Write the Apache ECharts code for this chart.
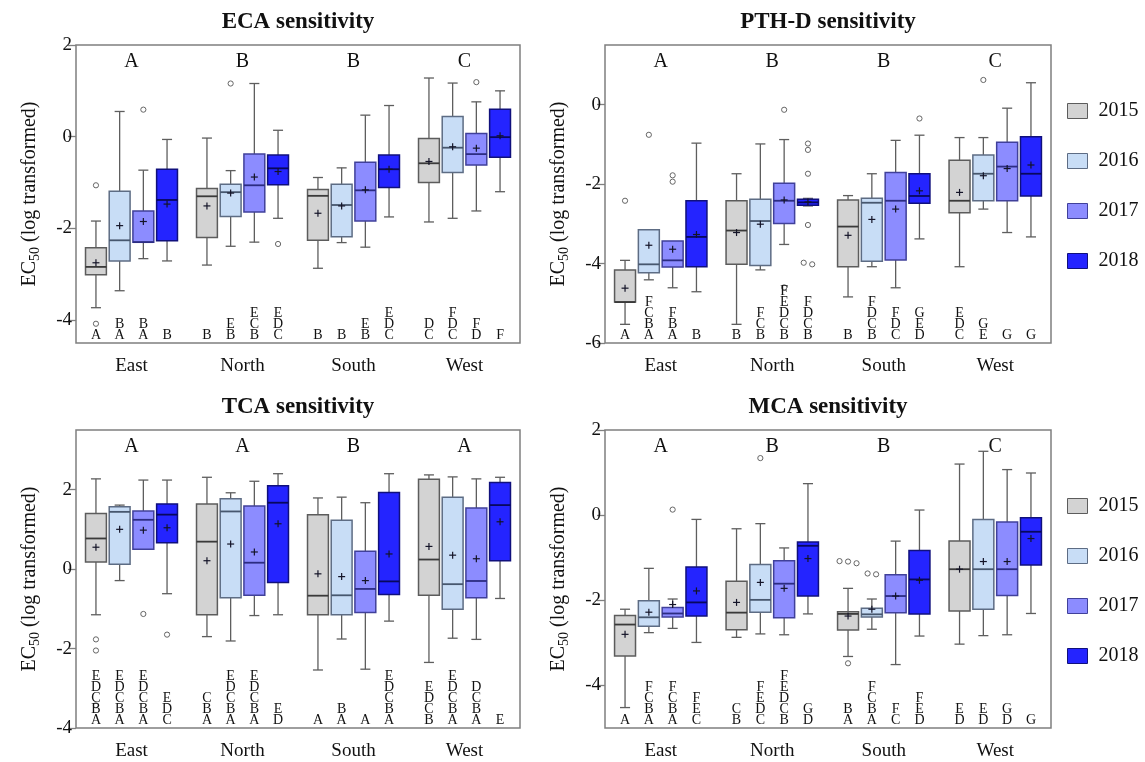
<!DOCTYPE html>
<html>
<head>
<meta charset="utf-8">
<script src="https://cdn.jsdelivr.net/npm/echarts@6/dist/echarts.min.js"></script>
<style>
  html, body { margin: 0; padding: 0; background: #ffffff; }
  #chart { width: 1145px; height: 762px; }
</style>
</head>
<body>
<div id="chart"></div>
<script>
// ---------- data ----------
const regions = ['East', 'North', 'South', 'West'];
const years = ['2015', '2016', '2017', '2018'];
const panelTitles = ['ECA sensitivity', 'PTH-D sensitivity', 'TCA sensitivity', 'MCA sensitivity'];

// five-number summaries [min, Q1, median, Q3, max] for East, North, South, West
const eca2015 = [[-3.73, -3.01, -2.84, -2.42, -1.84], [-2.80, -2.20, -1.30, -1.13, -0.03], [-2.87, -2.26, -1.29, -1.15, -0.89], [-1.86, -1.00, -0.58, -0.04, 1.28]];
const eca2016 = [[-3.36, -2.71, -2.26, -1.19, 0.55], [-2.39, -1.74, -1.21, -1.04, -0.74], [-2.31, -2.18, -1.49, -1.04, -0.68], [-1.78, -0.78, -0.24, 0.44, 1.17]];
const eca2017 = [[-2.66, -2.30, -2.30, -1.62, -0.73], [-2.30, -1.64, -1.06, -0.38, 1.16], [-2.41, -1.84, -1.17, -0.56, 0.47], [-1.62, -0.62, -0.38, 0.07, 0.76]];
const eca2018 = [[-2.71, -2.27, -1.38, -0.71, -0.06], [-1.78, -1.05, -0.69, -0.40, 0.14], [-1.75, -1.11, -0.71, -0.40, 0.68], [-1.20, -0.45, -0.01, 0.60, 1.00]];
const ecaMeans = [[-2.75, -1.51, -1.67, -0.54], [-1.94, -1.23, -1.51, -0.22], [-1.85, -0.88, -1.16, -0.25], [-1.47, -0.76, -0.71, 0.02]];
const ecaOutliers = [[[-1.06, -4.08], [], [], []], [[], [1.16], [], []], [[0.59], [], [], [1.19]], [[], [-2.34], [], []]];
const ecaLetters = [['A', 'B', 'B', 'DC'], ['BA', 'EB', 'B', 'FDC'], ['BA', 'ECB', 'EB', 'FD'], ['B', 'EDC', 'EDC', 'F']];
const ecaGroups = ['A', 'B', 'B', 'C'];

const pth2015 = [[-5.53, -4.97, -4.97, -4.16, -3.92], [-5.53, -4.02, -3.17, -2.42, -1.74], [-4.84, -4.08, -3.07, -2.40, -2.29], [-4.08, -2.72, -2.42, -1.40, -0.83]];
const pth2016 = [[-4.41, -4.23, -4.02, -3.15, -3.15], [-4.16, -4.05, -2.93, -2.38, -0.99], [-4.08, -3.94, -2.47, -2.36, -1.74], [-2.63, -2.42, -1.74, -1.27, -0.83]];
const pth2017 = [[-4.61, -4.09, -3.92, -3.43, -3.43], [-3.52, -2.99, -2.42, -1.98, -0.88], [-4.61, -3.91, -2.42, -1.71, -0.90], [-3.22, -2.42, -1.56, -0.95, -0.09]];
const pth2018 = [[-4.71, -4.08, -3.33, -2.42, -0.97], [-2.55, -2.53, -2.46, -2.38, -2.36], [-3.38, -2.48, -2.30, -1.74, -0.77], [-3.33, -2.30, -1.74, -0.81, 0.55]];
const pthMeans = [[-4.62, -3.22, -3.29, -2.21], [-3.54, -3.01, -2.89, -1.79], [-3.64, -2.40, -2.63, -1.61], [-3.27, -2.45, -2.17, -1.52]];
const pthOutliers = [[[-2.42], [], [], []], [[-0.76], [], [], [0.62]], [[-1.78, -1.94], [-0.13, -4.60], [], []], [[], [-0.98, -1.14, -1.74, -3.03, -3.98, -4.02], [-0.35], []]];
const pthLetters = [['A', 'B', 'B', 'EDC'], ['FCBA', 'FCB', 'FDCB', 'GE'], ['FBA', 'FEDCB', 'FDC', 'G'], ['B', 'FDCB', 'GED', 'G']];
const pthGroups = ['A', 'B', 'B', 'C'];

const tca2015 = [[-1.15, 0.18, 0.77, 1.40, 2.27], [-1.70, -1.15, 0.69, 1.64, 2.31], [-2.54, -1.15, -0.67, 1.37, 1.79], [-2.35, -0.66, 0.24, 2.26, 2.37]];
const tca2016 = [[-0.29, 0.12, 1.44, 1.57, 1.61], [-1.81, -0.72, 1.45, 1.77, 1.92], [-1.76, -1.15, -0.66, 1.23, 1.81], [-1.74, -1.01, -0.38, 1.81, 2.32]];
const tca2017 = [[0.50, 0.50, 1.24, 1.46, 2.24], [-1.17, -0.66, 0.16, 1.59, 2.21], [-2.52, -1.09, -0.50, 0.45, 1.67], [-1.77, -0.72, -0.30, 1.54, 2.27]];
const tca2018 = [[-0.62, 0.66, 1.37, 1.64, 2.24], [-1.15, -0.34, 1.67, 2.10, 2.40], [-1.31, -0.64, -0.31, 1.93, 2.40], [-0.74, 0.21, 1.61, 2.18, 2.31]];
const tcaMeans = [[0.55, 0.21, -0.12, 0.57], [1.00, 0.63, -0.19, 0.35], [0.98, 0.43, -0.29, 0.26], [1.04, 1.14, 0.38, 1.19]];
const tcaOutliers = [[[-1.77, -2.05, -3.43], [], [], []], [[], [], [], []], [[-1.13], [], [], []], [[-1.65], [], [], []]];
const tcaLetters = [['EDCBA', 'CBA', 'A', 'EDCB'], ['EDCBA', 'EDCBA', 'BA', 'EDCBA'], ['EDCBA', 'EDCBA', 'A', 'DCBA'], ['EDC', 'ED', 'EDCBA', 'E']];
const tcaGroups = ['A', 'A', 'B', 'A'];

const mca2015 = [[-4.52, -3.31, -2.57, -2.36, -2.21], [-2.87, -2.69, -2.29, -1.55, -0.32], [-3.32, -2.70, -2.32, -2.27, -1.72], [-3.03, -2.25, -1.27, -0.61, 1.20]];
const mca2016 = [[-2.76, -2.61, -2.40, -2.01, -1.25], [-2.79, -2.28, -1.99, -1.16, -0.20], [-2.68, -2.39, -2.33, -2.19, -1.97], [-2.83, -2.21, -1.27, -0.10, 1.50]];
const mca2017 = [[-2.66, -2.39, -2.31, -2.17, -1.97], [-2.81, -2.41, -1.61, -1.07, -0.77], [-3.51, -2.29, -1.90, -1.40, -0.61], [-2.81, -1.89, -1.27, -0.16, 1.07]];
const mca2018 = [[-2.99, -2.37, -2.05, -1.22, -0.10], [-2.32, -1.90, -0.72, -0.63, 0.74], [-2.84, -2.32, -1.51, -0.83, 0.12], [-2.31, -1.17, -0.39, -0.06, 0.99]];
const mcaMeans = [[-2.80, -2.05, -2.37, -1.27], [-2.28, -1.58, -2.21, -1.09], [-2.10, -1.72, -1.90, -1.09], [-1.78, -1.02, -1.53, -0.55]];
const mcaOutliers = [[[], [], [-1.08, -1.13, -1.09, -3.48], []], [[], [1.34], [-1.39, -1.37], []], [[0.13], [], [], []], [[], [], [], []]];
const mcaLetters = [['A', 'CB', 'BA', 'ED'], ['FCBA', 'FEDC', 'FCBA', 'ED'], ['FCBA', 'FEDCB', 'FC', 'GD'], ['FEC', 'GD', 'FED', 'G']];
const mcaGroups = ['A', 'B', 'B', 'C'];

// y-axis tick values per panel
const ecaTicks = [-4, -2, 0, 2];
const pthTicks = [-6, -4, -2, 0];
const tcaTicks = [-4, -2, 0, 2];
const mcaTicks = [-4, -2, 0, 2];

// ---------- styling ----------
const FONT = '"Liberation Serif", "Times New Roman", serif';
const fills = ['#d3d3d3', '#c8ddf6', '#8c8cff', '#2424ff'];
const borders = ['#5c5c5c', '#5d6c84', '#40409a', '#10107c'];
const medianColors = ['#3a3a3a', '#47576e', '#2c2c82', '#08085e'];

const panels = [
  { boxes: [eca2015, eca2016, eca2017, eca2018], means: ecaMeans, outliers: ecaOutliers, letters: ecaLetters, groups: ecaGroups, ticks: ecaTicks, min: -4.5, max: 2,
    grid: { left: 76, top: 45, width: 444, height: 298 } },
  { boxes: [pth2015, pth2016, pth2017, pth2018], means: pthMeans, outliers: pthOutliers, letters: pthLetters, groups: pthGroups, ticks: pthTicks, min: -6, max: 1.5,
    grid: { left: 605, top: 45, width: 446, height: 298 } },
  { boxes: [tca2015, tca2016, tca2017, tca2018], means: tcaMeans, outliers: tcaOutliers, letters: tcaLetters, groups: tcaGroups, ticks: tcaTicks, min: -4, max: 3.5,
    grid: { left: 76, top: 430, width: 444, height: 298 } },
  { boxes: [mca2015, mca2016, mca2017, mca2018], means: mcaMeans, outliers: mcaOutliers, letters: mcaLetters, groups: mcaGroups, ticks: mcaTicks, min: -5, max: 2,
    grid: { left: 605, top: 430, width: 446, height: 298 } }
];

// box-and-whisker renderer for one year inside one panel
function boxRenderer(panel, yi) {
  return function (params, api) {
    const i = api.value(0);
    const band = api.size([1, 0])[0];
    const cx = api.coord([i, 0])[0] + (yi - 1.5) * band * 0.2135;
    const Y = function (v) { return api.coord([i, v])[1]; };
    const w = band * 0.188;
    const cap = w * 0.48;
    const mn = api.value(1), q1 = api.value(2), md = api.value(3), q3 = api.value(4), mx = api.value(5), mean = api.value(6);
    const whisker = { stroke: '#5e5e5e', lineWidth: 1.3 };
    const line = function (x1, y1, x2, y2, style) {
      return { type: 'line', shape: { x1: x1, y1: y1, x2: x2, y2: y2 }, style: style };
    };
    const ch = [];
    if (mx > q3) {
      ch.push(line(cx, Y(q3), cx, Y(mx), whisker));
      ch.push(line(cx - cap / 2, Y(mx), cx + cap / 2, Y(mx), whisker));
    }
    if (mn < q1) {
      ch.push(line(cx, Y(q1), cx, Y(mn), whisker));
      ch.push(line(cx - cap / 2, Y(mn), cx + cap / 2, Y(mn), whisker));
    }
    ch.push({
      type: 'rect',
      shape: { x: cx - w / 2, y: Y(q3), width: w, height: Math.max(Y(q1) - Y(q3), 1) },
      style: { fill: fills[yi], stroke: borders[yi], lineWidth: 1.5 }
    });
    ch.push(line(cx - w / 2, Y(md), cx + w / 2, Y(md), { stroke: medianColors[yi], lineWidth: 1.8 }));
    // mean marker
    const my = Y(mean);
    const ms = { stroke: '#141428', lineWidth: 1.2 };
    ch.push(line(cx - 3.5, my, cx + 3.5, my, ms));
    ch.push(line(cx, my - 3.5, cx, my + 3.5, ms));
    // outliers; points at nearly equal heights are spread sideways
    const pts = panel.outliers[yi][params.dataIndex].map(Y).sort(function (a, b) { return a - b; });
    let k = 0;
    while (k < pts.length) {
      let j = k;
      while (j + 1 < pts.length && pts[j + 1] - pts[j] < 3) j++;
      const n = j - k + 1;
      for (let m = k; m <= j; m++) {
        ch.push({
          type: 'circle',
          shape: { cx: cx + (m - k - (n - 1) / 2) * 8.5, cy: pts[m], r: 2.6 },
          style: { fill: '#ffffff', stroke: '#666666', lineWidth: 1 }
        });
      }
      k = j + 1;
    }
    // significance letters stacked at the bottom of the panel
    const letters = panel.letters[yi][params.dataIndex].split('').join('\n');
    ch.push({
      type: 'text',
      style: {
        text: letters, x: cx, y: Y(panel.min) - 2,
        align: 'center', verticalAlign: 'bottom',
        fontFamily: FONT, fontSize: 14, lineHeight: 11, fill: '#111111'
      }
    });
    return { type: 'group', children: ch };
  };
}

// group letters above each region
function groupRenderer(panel) {
  return function (params, api) {
    const i = api.value(0);
    const p = api.coord([i, panel.max]);
    return {
      type: 'text',
      style: {
        text: panel.groups[params.dataIndex], x: p[0], y: p[1] + 17,
        align: 'center', verticalAlign: 'middle',
        fontFamily: FONT, fontSize: 20, fill: '#111111'
      }
    };
  };
}

const grids = [], xAxes = [], yAxes = [], series = [], titles = [];
panels.forEach(function (p, g) {
  grids.push(Object.assign({ show: true, borderColor: '#7f7f7f', borderWidth: 1.5, containLabel: false }, p.grid));
  xAxes.push({
    gridIndex: g, type: 'category', data: regions, boundaryGap: true,
    axisLine: { show: false }, axisTick: { show: false }, splitLine: { show: false },
    axisLabel: { fontFamily: FONT, fontSize: 19, color: '#111111', margin: 14 }
  });
  yAxes.push({
    gridIndex: g, type: 'value', min: p.min, max: p.max,
    axisLine: { show: false }, splitLine: { show: false },
    axisTick: { show: true, length: 8, customValues: p.ticks, lineStyle: { color: '#7f7f7f', width: 1.3 } },
    axisLabel: { customValues: p.ticks, fontFamily: FONT, fontSize: 19, color: '#111111', margin: 4 },
    name: '{a|EC}{s|50}{a| (log transformed)}',
    nameLocation: 'middle', nameGap: 34,
    nameTextStyle: {
      fontFamily: FONT, fontSize: 20, color: '#111111',
      rich: {
        a: { fontFamily: FONT, fontSize: 20, lineHeight: 24, color: '#111111' },
        s: { fontFamily: FONT, fontSize: 14, lineHeight: 12, verticalAlign: 'bottom', color: '#111111' }
      }
    }
  });
  titles.push({
    text: panelTitles[g],
    left: p.grid.left + p.grid.width / 2, top: p.grid.top - 34, textAlign: 'center', padding: 0,
    textStyle: { fontFamily: FONT, fontSize: 23, fontWeight: 'bold', color: '#111111' }
  });
  years.forEach(function (yr, yi) {
    series.push({
      type: 'custom', name: yr, xAxisIndex: g, yAxisIndex: g,
      itemStyle: { color: fills[yi], borderColor: borders[yi] },
      encode: { x: 0, y: [1, 2, 3, 4, 5] },
      data: p.boxes[yi].map(function (s, i) { return [i].concat(s, [p.means[yi][i]]); }),
      renderItem: boxRenderer(p, yi),
      z: 2, silent: true
    });
  });
  series.push({
    type: 'custom', name: 'groups', xAxisIndex: g, yAxisIndex: g,
    encode: { x: 0, y: 1 },
    data: p.groups.map(function (l, i) { return [i, p.max]; }),
    renderItem: groupRenderer(p), z: 3, silent: true
  });
});

const legendItems = years.map(function (yr, yi) {
  return { name: yr, itemStyle: { color: fills[yi], borderColor: borders[yi], borderWidth: 1 } };
});
function makeLegend(top) {
  return {
    data: legendItems, orient: 'vertical', left: 1067, top: top, padding: 0,
    icon: 'rect', itemWidth: 20, itemHeight: 15, itemGap: 30, selectedMode: false,
    textStyle: { fontFamily: FONT, fontSize: 20, lineHeight: 20, color: '#111111', padding: [0, 0, 0, 6] }
  };
}

const chart = echarts.init(document.getElementById('chart'), null, { renderer: 'canvas' });
chart.setOption({
  animation: false,
  backgroundColor: '#ffffff',
  title: titles,
  legend: [makeLegend(101), makeLegend(496)],
  grid: grids,
  xAxis: xAxes,
  yAxis: yAxes,
  series: series
});
</script>
</body>
</html>
